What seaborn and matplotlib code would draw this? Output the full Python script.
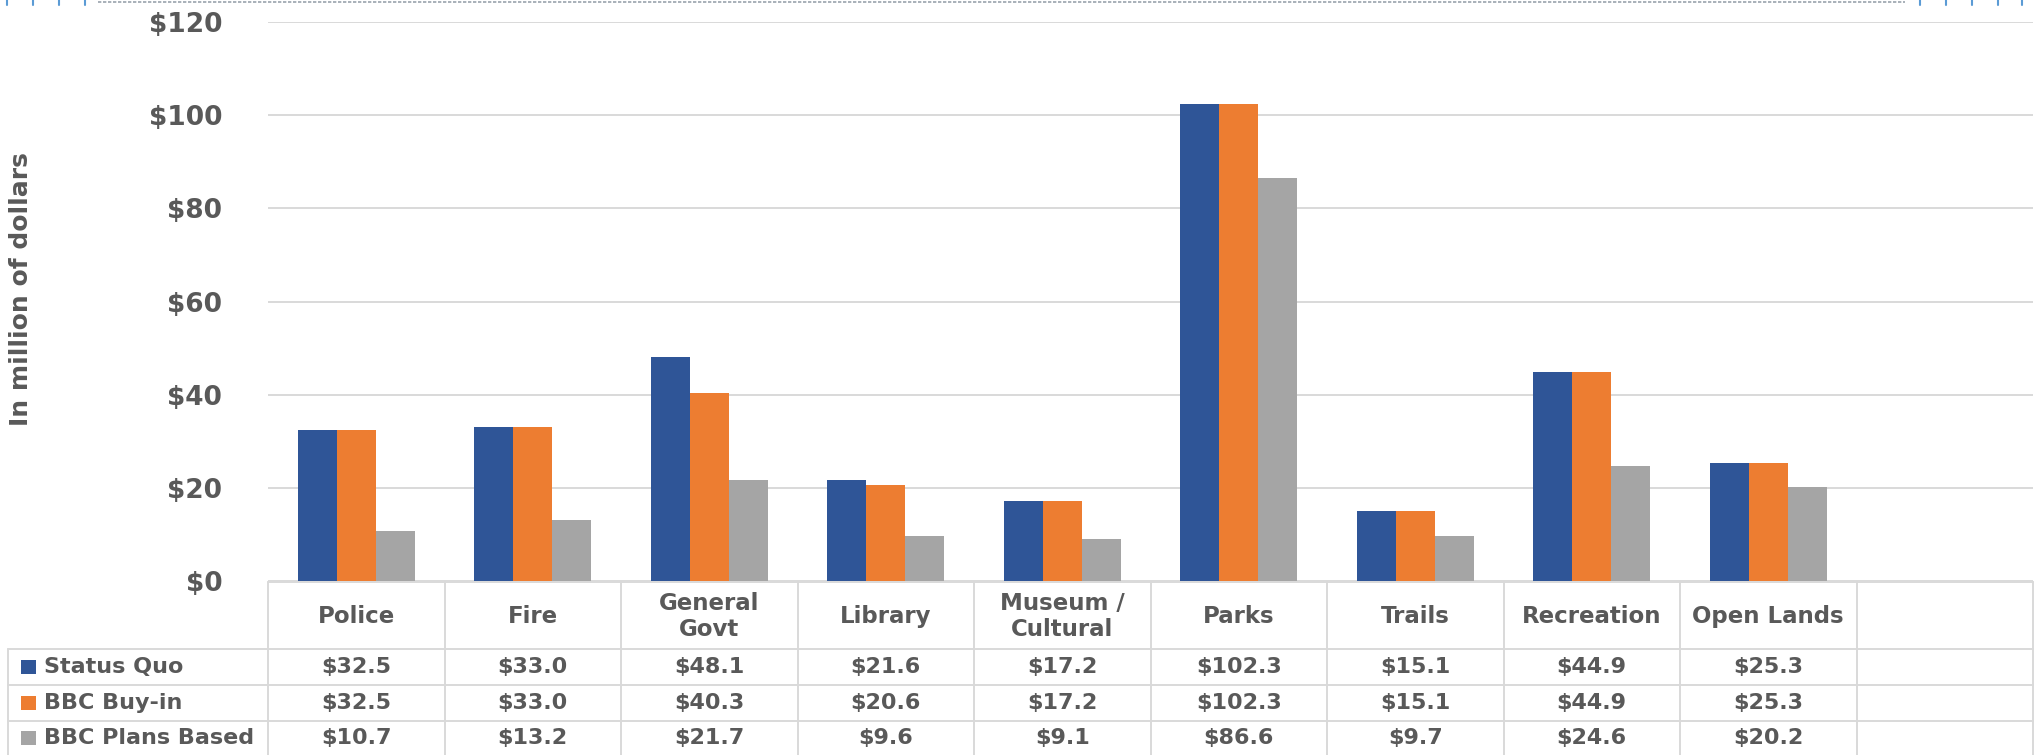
import matplotlib
matplotlib.use("Agg")
import matplotlib.pyplot as plt
import seaborn as sns
import pandas as pd
from matplotlib.lines import Line2D
from matplotlib.patches import Rectangle

# ---------------- data ----------------
categories = ["Police", "Fire", "General\nGovt", "Library", "Museum /\nCultural",
              "Parks", "Trails", "Recreation", "Open Lands"]
series_names = ["Status Quo", "BBC Buy-in", "BBC Plans Based"]
status_quo = [32.5, 33.0, 48.1, 21.6, 17.2, 102.3, 15.1, 44.9, 25.3]
bbc_buy_in = [32.5, 33.0, 40.3, 20.6, 17.2, 102.3, 15.1, 44.9, 25.3]
bbc_plans_based = [10.7, 13.2, 21.7, 9.6, 9.1, 86.6, 9.7, 24.6, 20.2]
y_ticks = [0, 20, 40, 60, 80, 100, 120]
y_tick_labels = ["$0", "$20", "$40", "$60", "$80", "$100", "$120"]
y_label = "In million of dollars"
colors = ["#2F5597", "#ED7D31", "#A5A5A5"]

series_values = [status_quo, bbc_buy_in, bbc_plans_based]
rows = []
for name, vals in zip(series_names, series_values):
    for cat, v in zip(categories, vals):
        rows.append({"category": cat, "series": name, "value": v})
df = pd.DataFrame(rows)

# ---------------- figure ----------------
sns.set_theme(style="white")
plt.rcParams["font.family"] = ["DejaVu Sans"]
W, H = 2039, 755
fig = plt.figure(figsize=(W / 100, H / 100), dpi=100)
fig.patch.set_facecolor("white")

TEXT = "#595959"
GRID = "#D9D9D9"

x_left_px, x_right_px = 268, 2033
y_zero_px, y_top_px = 581, 22
n_slots = 10
ax = fig.add_axes([x_left_px / W, 1 - y_zero_px / H,
                   (x_right_px - x_left_px) / W, (y_zero_px - y_top_px) / H])

sns.barplot(data=df, x="category", y="value", hue="series", order=categories,
            hue_order=series_names, palette=colors, saturation=1, width=0.663,
            gap=0, legend=False, ax=ax, linewidth=0)

ax.set_xlim(-0.5, n_slots - 0.5)
ax.set_ylim(0, 120)
ax.set_yticks(y_ticks)
ax.set_yticklabels(y_tick_labels, fontsize=19, fontweight="bold", color=TEXT)
ax.set_xticks([])
ax.set_xlabel("")
ax.set_ylabel(y_label, fontsize=18, fontweight="bold", color=TEXT)
ax.yaxis.set_label_coords((33 - x_left_px) / (x_right_px - x_left_px),
                          (y_zero_px - 289) / (y_zero_px - y_top_px))
ax.tick_params(axis="y", length=0, pad=33)
ax.yaxis.grid(True, color=GRID, linewidth=1.4)
ax.set_axisbelow(True)
for s in ax.spines.values():
    s.set_visible(False)

# ---------------- data table ----------------
col_w = (x_right_px - x_left_px) / n_slots
tab_left_px = 8
tab_x0 = -0.5 - (x_left_px - tab_left_px) / col_w
tax = fig.add_axes([tab_left_px / W, 0, (x_right_px - tab_left_px) / W, (H - 582) / H])
tax.set_xlim(tab_x0, n_slots - 0.5)
tax.set_ylim(H, 582)
tax.axis("off")

def pxx(px):
    return tab_x0 + (px - tab_left_px) / col_w

row_edges = [582, 649, 685, 721, 757]
lw = 1.4
# horizontal lines
tax.plot([-0.5, n_slots - 0.5], [row_edges[0]] * 2, color=GRID, lw=lw, clip_on=False)
for yy in row_edges[1:4]:
    tax.plot([tab_x0, n_slots - 0.5], [yy] * 2, color=GRID, lw=lw, clip_on=False)
# vertical lines
tax.plot([tab_x0] * 2, [row_edges[1], row_edges[-1]], color=GRID, lw=lw, clip_on=False)
for k in range(n_slots + 1):
    xx = -0.5 + k
    tax.plot([xx] * 2, [row_edges[0], row_edges[-1]], color=GRID, lw=lw, clip_on=False)

# header
for i, cat in enumerate(categories):
    tax.text(i, (row_edges[0] + row_edges[1]) / 2 + 1, cat, ha="center", va="center",
             fontsize=16.5, fontweight="bold", color=TEXT, linespacing=1.15)

# rows
for r, (name, vals, col) in enumerate(zip(series_names, series_values, colors)):
    yc = (row_edges[r + 1] + row_edges[r + 2]) / 2
    if r == 2:
        yc = 738
    sq0, sq1 = pxx(21), pxx(36)
    tax.add_patch(Rectangle((sq0, yc - 7), sq1 - sq0, 14, facecolor=col,
                            edgecolor="none", clip_on=False))
    tax.text(pxx(44), yc, name, ha="left", va="center", fontsize=16,
             fontweight="bold", color=TEXT)
    for i, v in enumerate(vals):
        tax.text(i, yc, f"${v:.1f}", ha="center", va="center", fontsize=16,
                 fontweight="bold", color=TEXT)

# ---------------- top selection-frame decoration ----------------
fig.add_artist(Line2D([98 / W, 1905 / W], [1 - 1.5 / H] * 2, transform=fig.transFigure,
                      color="#9AA3AD", lw=1.2, linestyle=(0, (2, 1))))
for xp in [7, 33, 59, 85, 1920, 1946, 1972, 1998, 2022]:
    fig.add_artist(Line2D([xp / W] * 2, [1, 1 - 5 / H], transform=fig.transFigure,
                          color="#5B9BD5", lw=1.5))

fig.savefig("out.png", dpi=100, facecolor="white")
